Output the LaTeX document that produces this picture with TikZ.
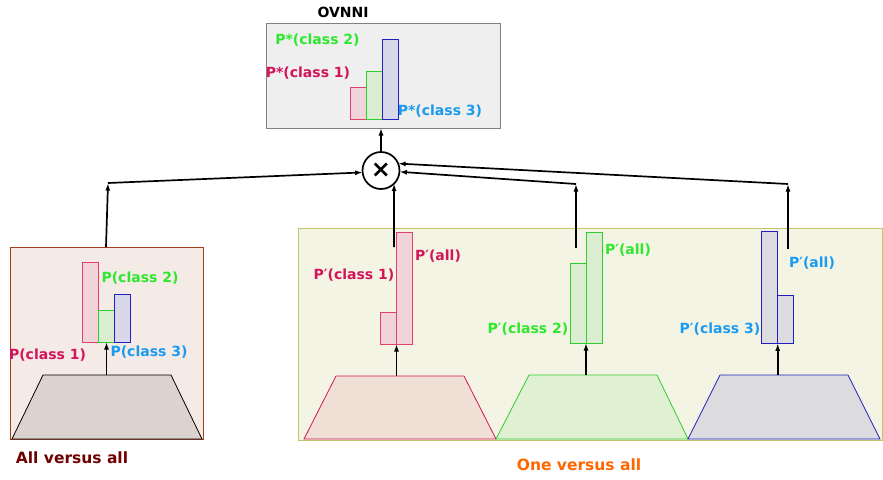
\documentclass[tikz,border=0pt]{standalone}
\usepackage{fontspec}
\setmainfont{DejaVu Sans}
\usetikzlibrary{arrows.meta}
\definecolor{redT}{HTML}{D4145A}
\definecolor{greenT}{HTML}{2EE82E}
\definecolor{blueT}{HTML}{1A9BF0}
\definecolor{redB}{HTML}{E0406A}
\definecolor{redF}{HTML}{F0D4DA}
\definecolor{greenB}{HTML}{30CC30}
\definecolor{greenF}{HTML}{DAEDD0}
\definecolor{blueB}{HTML}{2020C0}
\definecolor{blueF}{HTML}{D8D8EA}
\definecolor{topF}{HTML}{EFEFEF}
\definecolor{topB}{HTML}{808080}
\definecolor{leftF}{HTML}{F4EAE6}
\definecolor{leftB}{HTML}{A0401A}
\definecolor{rightF}{HTML}{F4F4E4}
\definecolor{rightB}{HTML}{C4C468}
\definecolor{trapL}{HTML}{DCD3CF}
\definecolor{trapR}{HTML}{EFDFD4}
\definecolor{trapG}{HTML}{E0F0D2}
\definecolor{trapB}{HTML}{DCDCE0}
\definecolor{darkred}{HTML}{700000}
\definecolor{orangeT}{HTML}{FF6600}
\begin{document}
\begin{tikzpicture}[x=1pt,y=-1pt,
  font=\bfseries\fontsize{14}{16}\selectfont,
  panel/.style={draw, anchor=north west, inner sep=0pt, outer sep=0pt, line width=0.8pt},
  bar/.style={draw, anchor=south west, inner sep=0pt, outer sep=0pt, minimum width=16pt, line width=0.8pt},
  lbl/.style={inner sep=0pt, anchor=center},
  captxt/.style={inner sep=0pt, font=\bfseries\fontsize{15.5}{18}\selectfont},
  arr/.style={line width=1.7pt, -{Latex[length=7.5pt,width=5pt]}},
  trap/.style={line width=0.8pt}
]
\useasboundingbox (0,0) rectangle (883,479);

% panels
\node[panel, fill=topF, draw=topB, minimum width=234pt, minimum height=105pt] (topbox) at (266,23) {};
\node[panel, fill=leftF, draw=leftB, minimum width=193pt, minimum height=192pt] (leftbox) at (10,247) {};
\node[panel, fill=rightF, draw=rightB, minimum width=584pt, minimum height=212pt] (rightbox) at (298,228) {};

% trapezoids
\draw[trap, fill=trapL, draw=black] (12,439) -- (43,375) -- (171,375) -- (202,439) -- cycle;
\coordinate (tL) at (106.5,375);
\draw[trap, fill=trapR, draw=redT] (304,439) -- (336,376) -- (464,376) -- (496,439) -- cycle;
\coordinate (tR) at (396.5,376);
\draw[trap, fill=trapG, draw=greenB] (496,439) -- (529,375) -- (657,375) -- (688,439) -- cycle;
\coordinate (tG) at (586,375);
\draw[trap, fill=trapB, draw=blueB] (688,439) -- (720,375) -- (848,375) -- (880,439) -- cycle;
\coordinate (tB) at (777.7,375);

% top bars
\node[bar, draw=redB, fill=redF, minimum height=32pt] (s1) at (350.5,119) {};
\node[bar, draw=greenB, fill=greenF, minimum height=48pt] (s2) at (366.5,119) {};
\node[bar, draw=blueB, fill=blueF, minimum height=80pt] (s3) at (382.5,119) {};
\node[lbl, text=greenT] (ls2) at (317.5,40) {P*(class 2)};
\node[lbl, text=redT] (ls1) at (308,73) {P*(class 1)};
\node[lbl, text=blueT] (ls3) at (440,111) {P*(class 3)};
\node[inner sep=0pt] (title) at (343,12) {OVNNI};

% left bars
\node[bar, draw=redB, fill=redF, minimum height=80pt] (a1) at (82.7,342) {};
\node[bar, draw=greenB, fill=greenF, minimum height=32pt] (a2) at (98.7,342) {};
\node[bar, draw=blueB, fill=blueF, minimum height=48pt] (a3) at (114.7,342) {};
\node[lbl, text=greenT] (la2) at (140,278) {P(class 2)};
\node[lbl, text=redT] (la1) at (47.5,355) {P(class 1)};
\node[lbl, text=blueT] (la3) at (149,352) {P(class 3)};
\node[captxt, text=darkred] (capL) at (72,458) {All versus all};

% right: red
\node[bar, draw=redB, fill=redF, minimum height=31.5pt] (r1) at (380.7,344) {};
\node[bar, draw=redB, fill=redF, minimum height=112pt] (r2) at (396.7,344) {};
\node[lbl, text=redT] (lr1) at (354,275) {P′(class 1)};
\node[lbl, text=redT] (lr2) at (438,256) {P′(all)};
% right: green
\node[bar, draw=greenB, fill=greenF, minimum height=80pt] (g1) at (570,343) {};
\node[bar, draw=greenB, fill=greenF, minimum height=111pt] (g2) at (586,343) {};
\node[lbl, text=greenT] (lg1) at (528,329) {P′(class 2)};
\node[lbl, text=greenT] (lg2) at (628,250) {P′(all)};
% right: blue
\node[bar, draw=blueB, fill=trapB, minimum height=111.5pt] (b2) at (761.7,343.3) {};
\node[bar, draw=blueB, fill=trapB, minimum height=48pt] (b1) at (777.7,343.3) {};
\node[lbl, text=blueT] (lb1) at (720,329) {P′(class 3)};
\node[lbl, text=blueT] (lb2) at (812,263) {P′(all)};
\node[captxt, text=orangeT] (capR) at (579,465) {One versus all};

% combiner
\node[draw, circle, line width=1.7pt, inner sep=0pt, outer sep=0pt, minimum size=37pt, font=\bfseries\fontsize{24}{24}\selectfont] (ox) at (381,170.5) {×};

% arrows feature extractor -> bars
\draw[arr] (tL) -- (tL |- a2.south);
\draw[arr] (tR) -- (tR |- r2.south);
\draw[arr] (tG) -- (tG |- g2.south);
\draw[arr] (tB) -- (tB |- b1.south);

% arrows to combiner
\coordinate (lbtop) at (106,247);
\coordinate (e1) at (108,183);
\draw[arr] (lbtop) -- (e1);
\draw[arr] (e1) -- (ox.186);

\coordinate (m1) at (394,247);
\draw[arr] (m1) -- (ox.-45);

\coordinate (m2) at (576,248);
\coordinate (e2) at (576,184);
\draw[arr] (m2) -- (e2);
\draw[arr] (e2) -- (ox.-4);

\coordinate (m3) at (788,249);
\coordinate (e3) at (788,184);
\draw[arr] (m3) -- (e3);
\draw[arr] (e3) -- (ox.22);

\draw[arr] (ox.north) -- (ox.north |- topbox.south);
\end{tikzpicture}
\end{document}
